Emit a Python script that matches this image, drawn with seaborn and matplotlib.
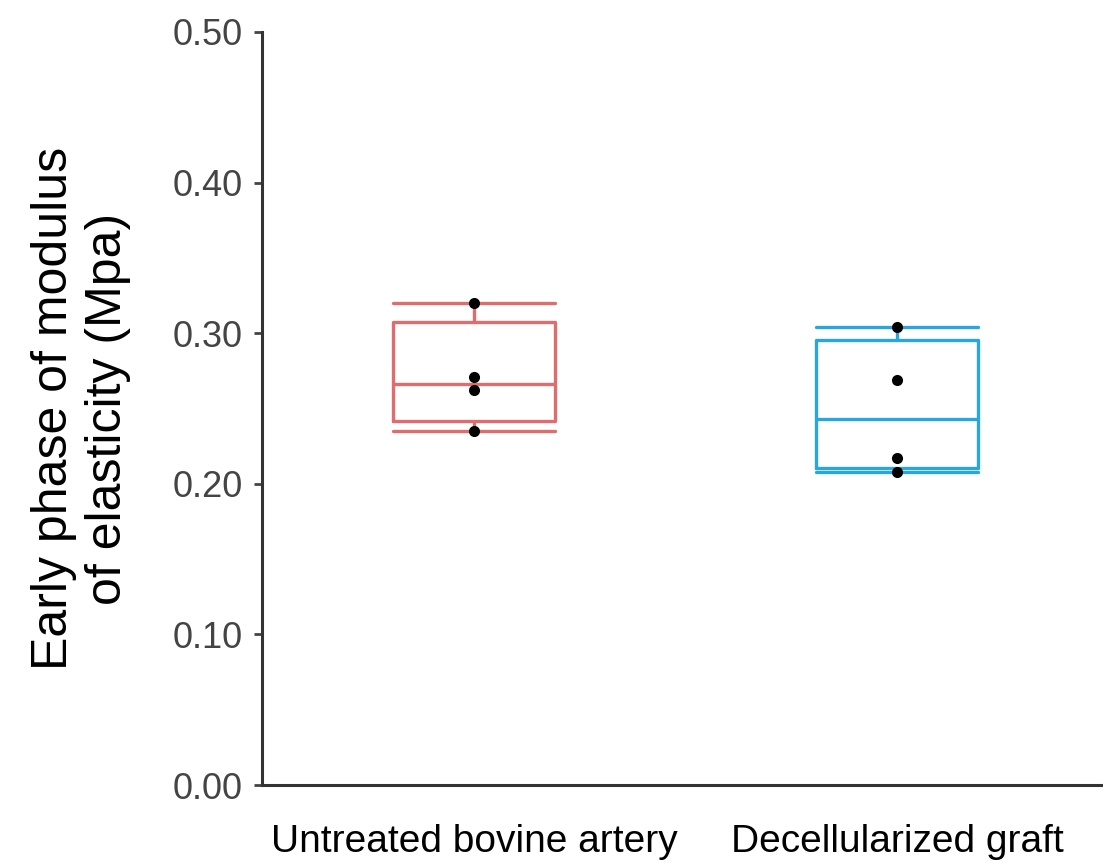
import numpy as np
import pandas as pd
import matplotlib
matplotlib.use("Agg")
import matplotlib.pyplot as plt
import seaborn as sns

# values
groups = ["Untreated bovine artery", "Decellularized graft"]
untreated = [0.320, 0.271, 0.262, 0.235]
decell = [0.304, 0.269, 0.217, 0.208]
colors = ["#E06C6E", "#2AA6DE"]
y_ticks = [0.0, 0.1, 0.2, 0.3, 0.4, 0.5]

points = pd.DataFrame({
    "group": [groups[0]] * len(untreated) + [groups[1]] * len(decell),
    "value": untreated + decell,
})

# the boxes in the figure use type-6 quartiles; pass the 5-number summary
# so seaborn's own percentile calc lands on the same hinges
rows = []
for g, vals in zip(groups, [untreated, decell]):
    q = np.quantile(vals, [0, 0.25, 0.5, 0.75, 1], method="weibull")
    rows += [{"group": g, "value": v} for v in q]
summary = pd.DataFrame(rows)

sns.set_style("white")
plt.rcParams["font.family"] = ["Liberation Sans", "DejaVu Sans"]

fig = plt.figure(figsize=(11.03, 8.64), dpi=100)
ax = fig.add_axes([0.2375, 0.0914, 0.7625, 0.8716])

bw = 0.383
sns.boxplot(data=summary, x="group", y="value", hue="group", order=groups,
            hue_order=groups, palette=colors, fill=False, width=bw, whis=np.inf,
            linewidth=2.4, legend=False, capwidths=bw, ax=ax)
sns.stripplot(data=points, x="group", y="value", order=groups, jitter=False,
              color="black", size=8, ax=ax)

ax.set_ylim(0, 0.5)
ax.set_xlim(-0.502, 1.486)
ax.set_yticks(y_ticks)
ax.set_yticklabels([f"{t:.2f}" for t in y_ticks])
ax.set_xlabel("")
ax.set_ylabel("Early phase of modulus\nof elasticity (Mpa)", fontsize=36,
              labelpad=30, linespacing=1.2, color="black")

for side in ["top", "right"]:
    ax.spines[side].set_visible(False)
for side in ["left", "bottom"]:
    ax.spines[side].set_color("#333333")
    ax.spines[side].set_linewidth(2.2)

ax.tick_params(axis="y", labelsize=26, colors="#444444", length=6, width=2,
               pad=8, left=True)
ax.tick_params(axis="x", labelsize=28, colors="black", length=0, pad=28)

fig.savefig("out.png", dpi=100)
